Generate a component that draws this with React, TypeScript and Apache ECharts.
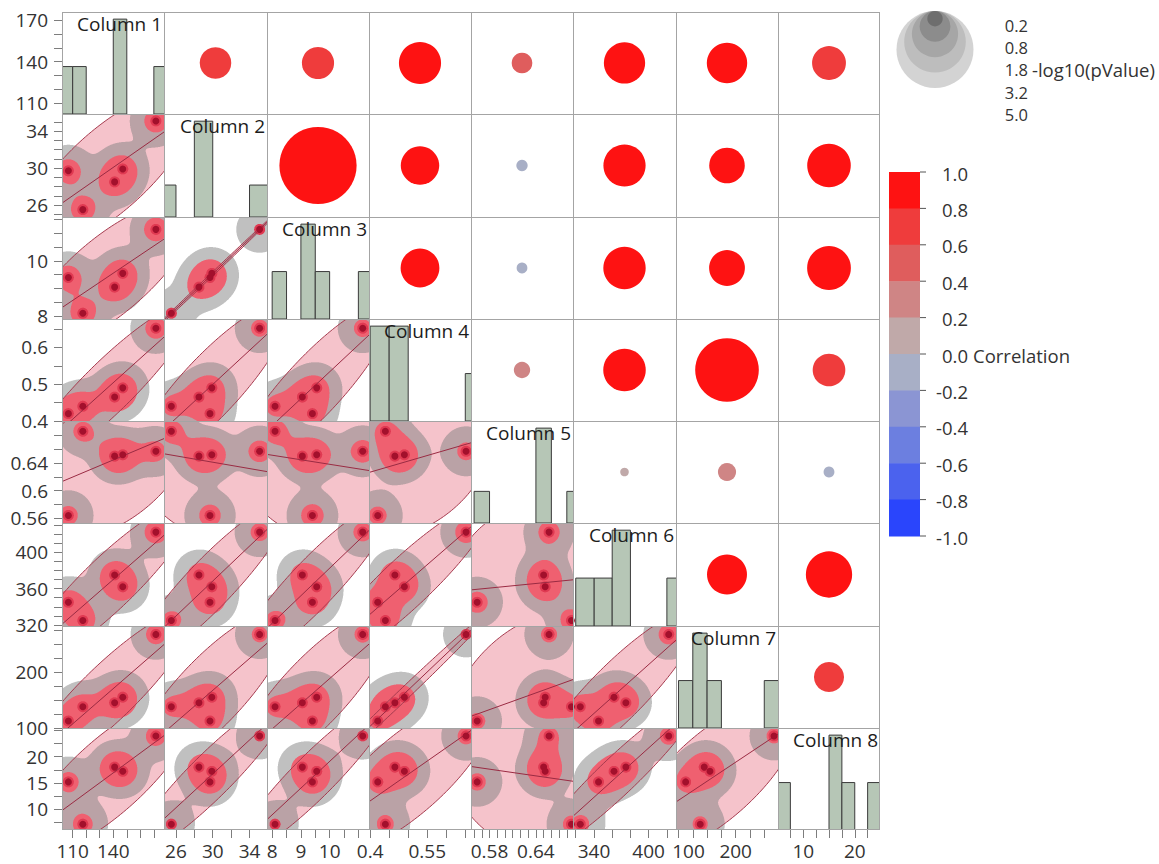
import { useEffect, useRef } from "react";
import * as echarts from "echarts";

// ---- data: five observations of eight columns ----
const columnNames = ["Column 1", "Column 2", "Column 3", "Column 4", "Column 5", "Column 6", "Column 7", "Column 8"];

const column1 = [106.8, 117.5, 141, 147, 171.5];
const column2 = [29.7, 25.5, 28.5, 29.9, 35.1];
const column3 = [9.4, 8.1, 9.05, 9.55, 11.15];
const column4 = [0.42, 0.44, 0.465, 0.49, 0.652];
const column5 = [0.564, 0.686, 0.65, 0.652, 0.657];
const column6 = [345, 325, 375, 362, 422];
const column7 = [112.5, 138, 145, 155, 267];
const column8 = [15.2, 7.2, 18, 17.2, 23.9];
const columns = [column1, column2, column3, column4, column5, column6, column7, column8];

// ---- axes of each column (horizontal use / vertical use) ----
const xAxisMin = [102.1, 24.7, 7.82, 0.397, 0.556, 317, 95.6, 5.1];
const xAxisMax = [177.5, 35.9, 11.37, 0.665, 0.688, 430, 274, 24.9];
const yAxisMin = [102.3, 24.7, 7.89, 0.4, 0.553, 319, 100, 6.1];
const yAxisMax = [175.8, 35.85, 11.6, 0.677, 0.701, 432, 282, 25.4];

const xLabelValues = [[110, 140], [26, 30, 34], [8, 9, 10], [0.4, 0.55], [0.58, 0.64], [340, 400], [100, 200], [10, 20]];
const xTickValues = [
  [110, 120, 130, 140, 150, 160, 170],
  [26, 28, 30, 32, 34],
  [8, 8.5, 9, 9.5, 10, 10.5, 11],
  [0.4, 0.45, 0.5, 0.55, 0.6, 0.65],
  [0.56, 0.57, 0.58, 0.59, 0.6, 0.61, 0.62, 0.63, 0.64, 0.65, 0.66, 0.67, 0.68],
  [320, 340, 360, 380, 400, 420],
  [100, 125, 150, 175, 200, 225, 250],
  [7.5, 10, 12.5, 15, 17.5, 20, 22.5],
];
// first bottom label pushed right so neighbouring labels do not collide
const xFirstLabelShift = [0, 0, 0, 0, 0, 0, 10, 0];

const yLabelValues = [[110, 140, 170], [26, 30, 34], [8, 10], [0.4, 0.5, 0.6], [0.56, 0.6, 0.64], [320, 360, 400], [100, 200], [10, 15, 20]];
const yTickValues = [
  [110, 120, 130, 140, 150, 160, 170],
  [25, 26, 27, 28, 29, 30, 31, 32, 33, 34, 35],
  [8, 8.5, 9, 9.5, 10, 10.5, 11, 11.5],
  [0.4, 0.45, 0.5, 0.55, 0.6, 0.65],
  [0.56, 0.58, 0.6, 0.62, 0.64, 0.66, 0.68, 0.7],
  [320, 330, 340, 350, 360, 370, 380, 390, 400, 410, 420, 430],
  [100, 125, 150, 175, 200, 225, 250, 275],
  [7.5, 10, 12.5, 15, 17.5, 20, 22.5, 25],
];

// histogram bin width of each column
const binWidths = [10, 2, 0.5, 0.05, 0.02, 20, 25, 2.5];

// correlation colour scale, one colour per 0.2 step from -1 to 1
const correlationBreaks = [-1, -0.8, -0.6, -0.4, -0.2, 0, 0.2, 0.4, 0.6, 0.8, 1];
const correlationColors = ["#2a45fc", "#4b62ee", "#6c7fe0", "#8b95d3", "#a8afc6", "#c0a9a9", "#cf8585", "#df5d5d", "#ef3c3c", "#fe1212"];

// -log10(pValue) size legend
const pValueLegendValues = [0.2, 0.8, 1.8, 3.2, 5.0];
const pValueLegendGrays = ["#6e6e6e", "#8c8c8c", "#a6a6a6", "#bdbdbd", "#d3d3d3"];

// ---- layout and styling ----
const FONT = "'Open Sans', 'Noto Sans', 'DejaVu Sans', sans-serif";
const AXIS_FONT_SIZE = 19;
const LEGEND_FONT_SIZE = 18.5;
const SIZE_LEGEND_FONT_SIZE = 16.5;
const SIZE_LEGEND_ROW = 22.4;
const N = 8;
const ORIGIN_X = 62;
const ORIGIN_Y = 12;
const CELL = 102.25;
const MAX_CIRCLE = 77; // diameter of the largest size-legend circle
const ELLIPSE_COVERAGE = 0.95;
const ELLIPSE_LEVEL = -2 * Math.log(1 - ELLIPSE_COVERAGE); // chi-square, 2 df
const KERNEL_SIGMA = 13;
const SUPERSAMPLE = 3;
const cellX = (k: number) => Math.round(ORIGIN_X + k * CELL);
const cellY = (k: number) => Math.round(ORIGIN_Y + k * CELL);

function moments(xs: number[], ys: number[]) {
  const n = xs.length;
  const mx = xs.reduce((a, b) => a + b, 0) / n;
  const my = ys.reduce((a, b) => a + b, 0) / n;
  let sxx = 0, sxy = 0, syy = 0;
  for (let k = 0; k < n; k++) {
    const dx = xs[k] - mx, dy = ys[k] - my;
    sxx += dx * dx; sxy += dx * dy; syy += dy * dy;
  }
  const slope = sxy / sxx;
  const intercept = my - slope * mx;
  const r = sxy / Math.sqrt(sxx * syy);
  // sample covariance matrix
  const cxx = sxx / (n - 1), cxy = sxy / (n - 1), cyy = syy / (n - 1);
  return { n, mx, my, slope, intercept, r, cxx, cxy, cyy };
}

// two-sided p-value of a Pearson r from five observations: Student t with 3 df in closed form
function negLog10P(r: number) {
  const a = Math.min(Math.abs(r), 1 - 1e-12);
  const p = (2 / Math.PI) * (Math.acos(a) - a * Math.sqrt(1 - a * a));
  return -Math.log10(Math.max(p, 1e-12));
}

function correlationColor(r: number) {
  for (let k = 0; k < correlationColors.length; k++) {
    if (r < correlationBreaks[k + 1]) return correlationColors[k];
  }
  return correlationColors[correlationColors.length - 1];
}

function circleDiameter(v: number) {
  return MAX_CIRCLE * Math.sqrt(v / pValueLegendValues[pValueLegendValues.length - 1]);
}

// shaded kernel density contours over the shaded density ellipse, rasterised for one panel
function densityImage(w: number, h: number, pts: number[][], inEllipse: (px: number, py: number) => boolean) {
  const W = Math.max(1, Math.round(w));
  const H = Math.max(1, Math.round(h));
  const SS = SUPERSAMPLE;
  const SW = W * SS, SH = H * SS;
  const kx = w / W, ky = h / H;
  const dens = new Float32Array(SW * SH);
  const near = new Float32Array(SW * SH);
  const inv = 1 / (2 * KERNEL_SIGMA * KERNEL_SIGMA);
  let max = 0;
  for (let yy = 0; yy < SH; yy++) {
    const py = ((yy + 0.5) / SS) * ky;
    for (let xx = 0; xx < SW; xx++) {
      const px = ((xx + 0.5) / SS) * kx;
      let d = 0, m = Infinity;
      for (const p of pts) {
        const dx = px - p[0], dy = py - p[1];
        const d2 = dx * dx + dy * dy;
        d += Math.exp(-d2 * inv);
        if (d2 < m) m = d2;
      }
      dens[yy * SW + xx] = d;
      near[yy * SW + xx] = m;
      if (d > max) max = d;
    }
  }
  const tRing = 0.08 * max, tInner = 0.4 * max;
  const core2 = 5.5 * 5.5;
  const canvas = document.createElement("canvas");
  canvas.width = W;
  canvas.height = H;
  const ctx = canvas.getContext("2d")!;
  const img = ctx.createImageData(W, H);
  for (let y = 0; y < H; y++) {
    for (let x = 0; x < W; x++) {
      let R = 0, G = 0, B = 0;
      for (let a = 0; a < SS; a++) {
        const yy = y * SS + a;
        const py = ((yy + 0.5) / SS) * ky;
        for (let b = 0; b < SS; b++) {
          const xx = x * SS + b;
          const px = ((xx + 0.5) / SS) * kx;
          const k = yy * SW + xx;
          const d = dens[k];
          let r = 255, g = 255, bl = 255;
          if (inEllipse(px, py)) { r = 245; g = 195; bl = 203; }
          if (d >= tRing) { r = r * 0.5 + 128 * 0.5; g = g * 0.5 + 128 * 0.5; bl = bl * 0.5 + 128 * 0.5; }
          if (d >= tInner) { r = 239; g = 96; bl = 112; }
          if (near[k] <= core2) { r = 224; g = 58; bl = 82; }
          R += r; G += g; B += bl;
        }
      }
      const o = (y * W + x) * 4;
      const c = SS * SS;
      img.data[o] = R / c;
      img.data[o + 1] = G / c;
      img.data[o + 2] = B / c;
      img.data[o + 3] = 255;
    }
  }
  ctx.putImageData(img, 0, 0);
  return canvas.toDataURL("image/png");
}

function lowerCellRenderer(i: number, j: number) {
  const xs = columns[j], ys = columns[i];
  const m = moments(xs, ys);
  const x0 = xAxisMin[j], x1 = xAxisMax[j], y0 = yAxisMin[i], y1 = yAxisMax[i];
  const det = m.cxx * m.cyy - m.cxy * m.cxy;
  const mahalanobis = (x: number, y: number) => {
    const dx = x - m.mx, dy = y - m.my;
    return (m.cyy * dx * dx - 2 * m.cxy * dx * dy + m.cxx * dy * dy) / det;
  };
  // Cholesky factor of the covariance for the ellipse outline
  const a11 = Math.sqrt(m.cxx);
  const a21 = m.cxy / a11;
  const a22 = Math.sqrt(Math.max(m.cyy - a21 * a21, 0));
  const rad = Math.sqrt(ELLIPSE_LEVEL);
  let cache: { key: string; url: string } | null = null;
  return (_params: any, api: any) => {
    const tl = api.coord([x0, y1]);
    const br = api.coord([x1, y0]);
    const w = br[0] - tl[0], h = br[1] - tl[1];
    const key = `${w.toFixed(2)}x${h.toFixed(2)}`;
    if (!cache || cache.key !== key) {
      const pts = xs.map((x, k) => {
        const p = api.coord([x, ys[k]]);
        return [p[0] - tl[0], p[1] - tl[1]];
      });
      const inEllipse = (px: number, py: number) => {
        const x = x0 + (px / w) * (x1 - x0);
        const y = y1 - (py / h) * (y1 - y0);
        return mahalanobis(x, y) <= ELLIPSE_LEVEL;
      };
      cache = { key, url: densityImage(w, h, pts, inEllipse) };
    }
    const steps = 180;
    const outline: number[][] = [];
    for (let s = 0; s <= steps; s++) {
      const t = (2 * Math.PI * s) / steps;
      const c = Math.cos(t), sn = Math.sin(t);
      outline.push(api.coord([m.mx + rad * a11 * c, m.my + rad * (a21 * c + a22 * sn)]));
    }
    const fitLine = [api.coord([x0, m.intercept + m.slope * x0]), api.coord([x1, m.intercept + m.slope * x1])];
    const lineStyle = { stroke: "#a63b4f", lineWidth: 1, fill: "none" };
    return {
      type: "group",
      children: [
        { type: "image", style: { image: cache.url, x: tl[0], y: tl[1], width: w, height: h } },
        { type: "polyline", shape: { points: outline }, style: lineStyle },
        { type: "polyline", shape: { points: fitLine }, style: { ...lineStyle, stroke: "#9a2b43" } },
      ],
    };
  };
}

function histogramBins(values: number[], width: number) {
  const counts = new Map<number, number>();
  for (const v of values) {
    const k = Math.floor(v / width + 1e-9);
    counts.set(k, (counts.get(k) || 0) + 1);
  }
  return Array.from(counts.entries()).map(([k, c]) => [k * width, (k + 1) * width, c]);
}

const labelText = { fontSize: AXIS_FONT_SIZE, fontFamily: FONT, color: "#333333" };

function valueXAxis(g: number, j: number, showLabels: boolean) {
  const shift = xFirstLabelShift[j];
  return {
    type: "value",
    gridIndex: g,
    min: xAxisMin[j],
    max: xAxisMax[j],
    axisLine: { show: false },
    splitLine: { show: false },
    axisTick: { show: showLabels, customValues: xTickValues[j], length: 8, lineStyle: { color: "#7d7d7d" } },
    axisLabel: {
      show: showLabels,
      customValues: xLabelValues[j],
      margin: 11,
      ...labelText,
      formatter: (v: number) => (shift && v === xLabelValues[j][0] ? `{s|${v}}` : `${v}`),
      rich: { s: { ...labelText, padding: [0, 0, 0, 2 * shift] } },
    },
  };
}

function valueYAxis(g: number, i: number, showLabels: boolean) {
  return {
    type: "value",
    gridIndex: g,
    position: "left",
    min: yAxisMin[i],
    max: yAxisMax[i],
    axisLine: { show: false },
    splitLine: { show: false },
    axisTick: { show: showLabels, customValues: yTickValues[i], length: 8, lineStyle: { color: "#7d7d7d" } },
    axisLabel: { show: showLabels, customValues: yLabelValues[i], margin: 14, ...labelText, formatter: (v: number) => `${v}` },
  };
}

const hiddenAxis = (g: number) => ({ type: "value", gridIndex: g, min: 0, max: 1, show: false });

function buildOption() {
  const grid: any[] = [], xAxis: any[] = [], yAxis: any[] = [], series: any[] = [], graphic: any[] = [];

  for (let i = 0; i < N; i++) {
    for (let j = 0; j < N; j++) {
      const g = i * N + j;
      const L = cellX(j), R = cellX(j + 1), T = cellY(i), B = cellY(i + 1);
      grid.push({ left: L, top: T, width: R - L, height: B - T, show: false, containLabel: false, outerBoundsMode: "none" });

      if (i === j) {
        const bins = histogramBins(columns[j], binWidths[j]);
        const maxCount = Math.max(...bins.map((b) => b[2]));
        xAxis.push(valueXAxis(g, j, i === N - 1));
        yAxis.push({ type: "value", gridIndex: g, position: "right", min: 0, max: maxCount * 1.075, show: false });
        series.push({
          type: "custom",
          xAxisIndex: g,
          yAxisIndex: g,
          clip: true,
          silent: true,
          data: bins,
          encode: { x: [0, 1], y: 2 },
          renderItem: (_p: any, api: any) => {
            const p0 = api.coord([api.value(0), api.value(2)]);
            const p1 = api.coord([api.value(1), 0]);
            return {
              type: "rect",
              shape: { x: p0[0], y: p0[1], width: p1[0] - p0[0], height: p1[1] - p0[1] },
              style: { fill: "#b6c6b6", stroke: "#3b3b3b", lineWidth: 1 },
            };
          },
        });
        graphic.push({
          type: "text",
          z: 100,
          x: R - 2,
          y: T + 2,
          style: { text: columnNames[j], fontSize: AXIS_FONT_SIZE, fontFamily: FONT, fill: "#1c1c1c", align: "right", verticalAlign: "top" },
        });
      } else if (i > j) {
        xAxis.push(valueXAxis(g, j, i === N - 1));
        yAxis.push(valueYAxis(g, i, j === 0));
        series.push({
          type: "custom",
          xAxisIndex: g,
          yAxisIndex: g,
          clip: true,
          silent: true,
          data: [[xAxisMin[j], yAxisMin[i]]],
          renderItem: lowerCellRenderer(i, j),
        });
        series.push({
          type: "scatter",
          xAxisIndex: g,
          yAxisIndex: g,
          silent: true,
          symbol: "circle",
          symbolSize: 7,
          itemStyle: { color: "#a3102c", opacity: 1 },
          data: columns[j].map((x, k) => [x, columns[i][k]]),
        });
      } else {
        const m = moments(columns[i], columns[j]);
        xAxis.push(hiddenAxis(g));
        yAxis.push(hiddenAxis(g));
        series.push({
          type: "scatter",
          xAxisIndex: g,
          yAxisIndex: g,
          silent: true,
          symbol: "circle",
          data: [{ value: [0.5, 0.5], symbolSize: circleDiameter(negLog10P(m.r)), itemStyle: { color: correlationColor(m.r), opacity: 1 } }],
        });
      }
    }
  }
  // left value axis of the first row sits on the Column 1 histogram panel
  yAxis.push(valueYAxis(0, 0, true));

  // panel borders
  for (let k = 0; k <= N; k++) {
    const lx = cellX(k) + (k === N ? -0.5 : 0.5);
    const ly = cellY(k) + (k === N ? -0.5 : 0.5);
    graphic.push({ type: "line", z: 90, shape: { x1: lx, y1: cellY(0), x2: lx, y2: cellY(N) }, style: { stroke: "#a4a4a4", lineWidth: 1 } });
    graphic.push({ type: "line", z: 90, shape: { x1: cellX(0), y1: ly, x2: cellX(N), y2: ly }, style: { stroke: "#a4a4a4", lineWidth: 1 } });
  }

  // size legend: nested circles sharing their top edge
  const legendCx = 935, legendTop = 11;
  for (let k = pValueLegendValues.length - 1; k >= 0; k--) {
    const r = circleDiameter(pValueLegendValues[k]) / 2;
    graphic.push({ type: "circle", z: 100, shape: { cx: legendCx, cy: legendTop + r, r }, style: { fill: pValueLegendGrays[k] } });
  }
  pValueLegendValues.forEach((v, k) => {
    graphic.push({
      type: "text",
      z: 100,
      x: 1028,
      y: 25 + k * SIZE_LEGEND_ROW,
      style: { text: v.toFixed(1), fontSize: SIZE_LEGEND_FONT_SIZE, fontFamily: FONT, fill: "#333", align: "right", verticalAlign: "middle" },
    });
  });
  graphic.push({
    type: "text",
    z: 100,
    x: 1032,
    y: 25 + 2 * SIZE_LEGEND_ROW,
    style: { text: "-log10(pValue)", fontSize: LEGEND_FONT_SIZE, fontFamily: FONT, fill: "#333", align: "left", verticalAlign: "middle" },
  });

  // correlation colour legend
  const barX = 889, barW = 31, barTop = 172, barBottom = 536;
  const step = (barBottom - barTop) / correlationColors.length;
  correlationColors.forEach((_c, k) => {
    const idx = correlationColors.length - 1 - k;
    graphic.push({ type: "rect", z: 100, shape: { x: barX, y: barTop + k * step, width: barW, height: step + 0.5 }, style: { fill: correlationColors[idx] } });
  });
  for (let k = 0; k < correlationBreaks.length; k++) {
    const value = correlationBreaks[correlationBreaks.length - 1 - k];
    const y = barTop + k * step;
    graphic.push({ type: "line", z: 100, shape: { x1: barX + barW, y1: y, x2: barX + barW + 6, y2: y }, style: { stroke: "#555", lineWidth: 1 } });
    graphic.push({
      type: "text",
      z: 100,
      x: 968,
      y: y + 1,
      style: { text: value.toFixed(1), fontSize: LEGEND_FONT_SIZE, fontFamily: FONT, fill: "#333", align: "right", verticalAlign: "middle" },
    });
    if (value === 0) {
      graphic.push({
        type: "text",
        z: 100,
        x: 973,
        y: y + 1,
        style: { text: "Correlation", fontSize: LEGEND_FONT_SIZE, fontFamily: FONT, fill: "#333", align: "left", verticalAlign: "middle" },
      });
    }
  }

  return {
    animation: false,
    backgroundColor: "#ffffff",
    textStyle: { fontFamily: FONT },
    grid,
    xAxis,
    yAxis,
    series,
    graphic: { elements: graphic },
  };
}

export default function App() {
  const ref = useRef<HTMLDivElement>(null);
  useEffect(() => {
    const chart = echarts.init(ref.current!, null, { renderer: "svg" });
    chart.setOption(buildOption() as any);
    return () => chart.dispose();
  }, []);
  return <div ref={ref} style={{ position: "fixed", left: 0, top: 0, width: 1159, height: 864, background: "#fff" }} />;
}
